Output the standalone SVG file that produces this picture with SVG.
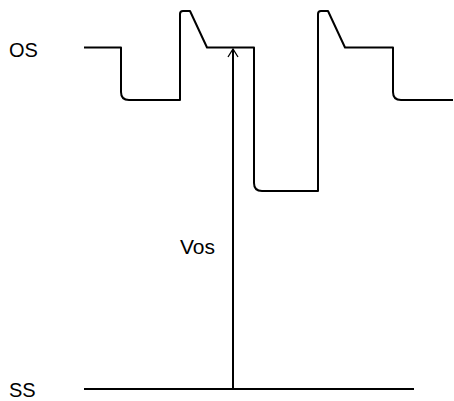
<svg xmlns="http://www.w3.org/2000/svg" width="454" height="401" viewBox="0 0 454 401">
<style>
.w{fill:none;stroke:#000;stroke-width:2;stroke-linejoin:round}
.t{font-family:"Liberation Sans",Arial,sans-serif;font-size:20px;fill:#000}
</style>
<defs>
<marker id="ah" viewBox="0 0 10 12" refX="9" refY="6" markerWidth="10" markerHeight="12" markerUnits="userSpaceOnUse" orient="auto">
<path d="M1,1 L9,6 L1,11" fill="none" stroke="#000" stroke-width="1.3"/>
</marker>
</defs>
<rect width="454" height="401" fill="#fff"/>
<g id="os-label"><text class="t" x="9" y="57">OS</text></g>
<g id="ss-label"><text class="t" x="9" y="397">SS</text></g>
<g id="vos-label"><text class="t" x="180" y="254" style="font-size:21px">Vos</text></g>
<g id="waveform"><path class="w" d="M84,47.5 H121 V92 Q121,100 129,100 H180 V14 Q180,11 183,11 H190 L207,47.5 H254 V183 Q254,191 262,191 H318 V14 Q318,11 321,11 H328 L345,47.5 H393 V92 Q393,100 401,100 H453"/></g>
<g id="ss-line"><line class="w" x1="84" y1="389" x2="414" y2="389"/></g>
<g id="connectors"><line x1="233" y1="389" x2="233" y2="49" stroke="#000" stroke-width="2" marker-end="url(#ah)"/></g>
</svg>
